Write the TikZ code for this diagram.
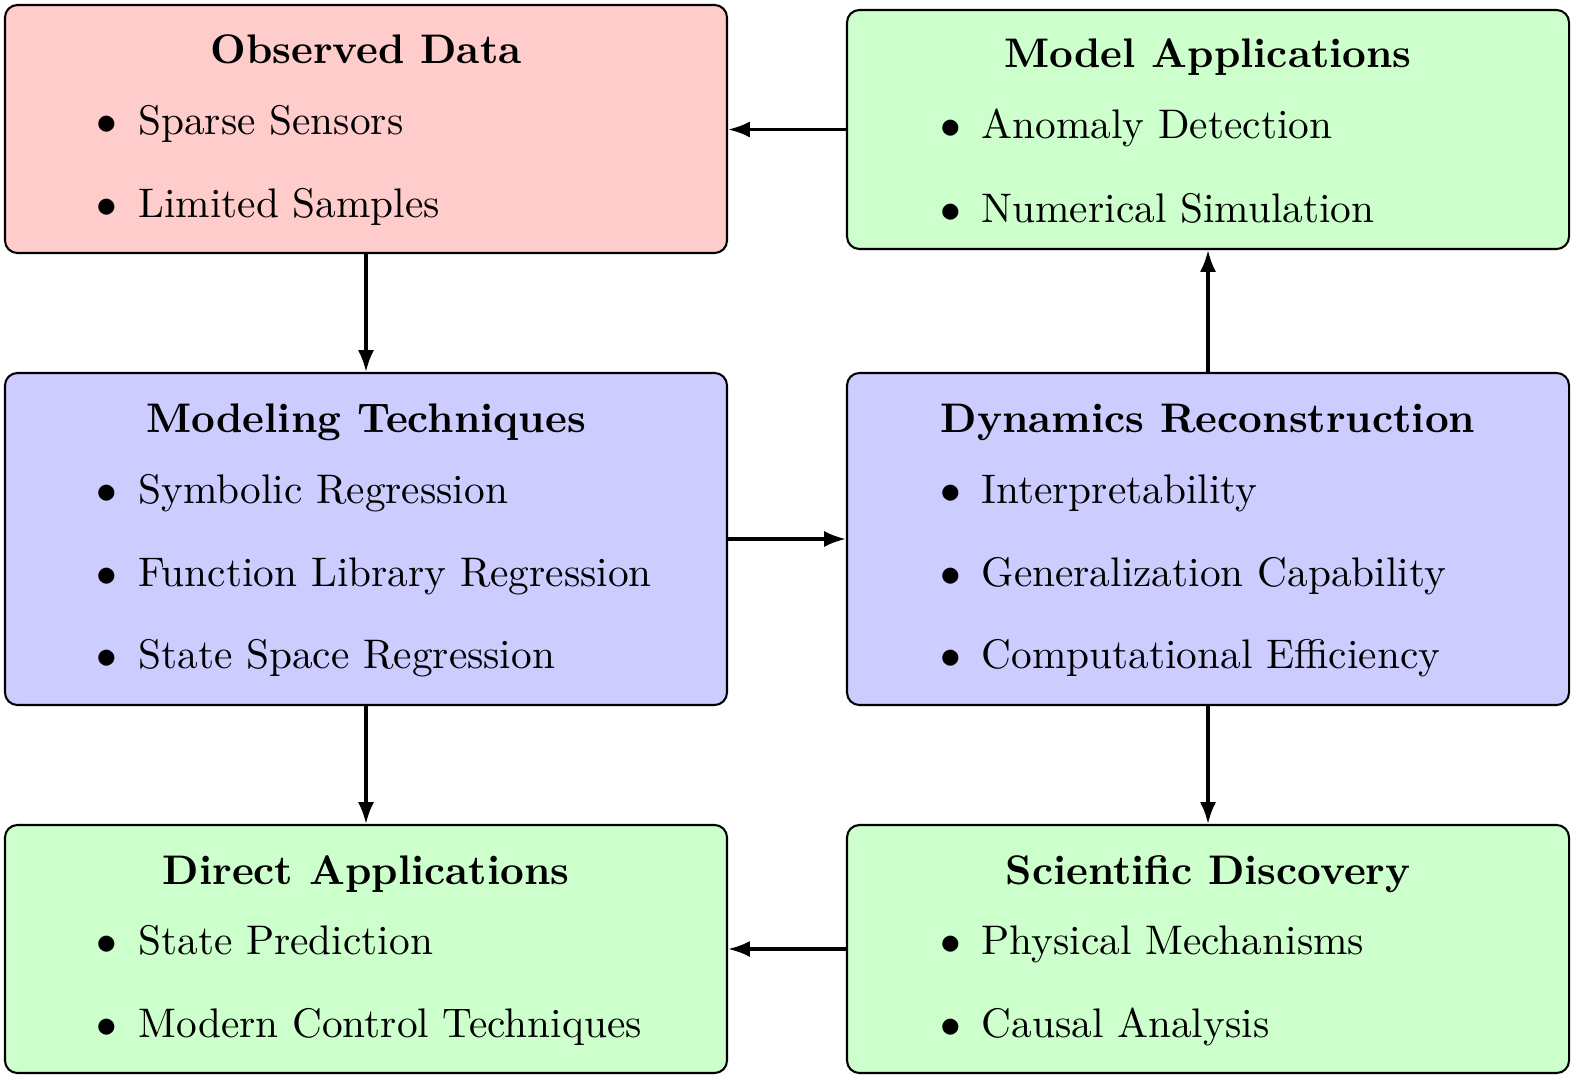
\documentclass[tikz,border=0pt]{standalone}
\usetikzlibrary{arrows.meta}
\begin{document}
\begin{tikzpicture}[x=0.2419pt,y=-0.2419pt,
  box/.style={draw=black,line width=0.5pt,rounded corners=3pt,minimum width=174.65pt,inner sep=0pt},
  ttl/.style={inner sep=0pt,anchor=base,font=\bfseries},
  itm/.style={inner sep=0pt,anchor=base west},
  conn/.style={line width=0.8pt,-{Latex[length=5.3pt,width=3.9pt]}}]
\useasboundingbox (0,0) rectangle (1574,1080);
\newcommand{\bul}{\llap{$\bullet$\hspace{5pt}}}
% boxes
\node[box,fill=red!20,minimum height=59.99pt] (tl) at (366,129) {};
\node[box,fill=green!20,minimum height=57.81pt] (tr) at (1208,129.5) {};
\node[box,fill=blue!20,minimum height=80.31pt] (ml) at (366,539) {};
\node[box,fill=blue!20,minimum height=80.31pt] (mr) at (1208,539) {};
\node[box,fill=green!20,minimum height=59.99pt] (bl) at (366,949) {};
\node[box,fill=green!20,minimum height=59.99pt] (br) at (1208,949) {};
% texts top-left
\node[ttl] (tlt) at (366,64) {Observed Data};
\node[itm] (tl1) at (137.5,135) {\bul Sparse Sensors};
\node[itm] (tl2) at (137.5,218) {\bul Limited Samples};
% top-right
\node[ttl] (trt) at (1208,68) {Model Applications};
\node[itm] (tr1) at (980.7,139) {\bul Anomaly Detection};
\node[itm] (tr2) at (980.7,222.5) {\bul Numerical Simulation};
% middle-left
\node[ttl] (mlt) at (366,432.5) {Modeling Techniques};
\node[itm] (ml1) at (137.5,503.5) {\bul Symbolic Regression};
\node[itm] (ml2) at (137.5,586) {\bul Function Library Regression};
\node[itm] (ml3) at (137.5,668.5) {\bul State Space Regression};
% middle-right
\node[ttl] (mrt) at (1208,432.5) {Dynamics Reconstruction};
\node[itm] (mr1) at (980.7,503.5) {\bul Interpretability};
\node[itm] (mr2) at (980.7,586) {\bul Generalization Capability};
\node[itm] (mr3) at (980.7,668.5) {\bul Computational Efficiency};
% bottom-left
\node[ttl] (blt) at (366,884.5) {Direct Applications};
\node[itm] (bl1) at (137.5,954.5) {\bul State Prediction};
\node[itm] (bl2) at (137.5,1037) {\bul Modern Control Techniques};
% bottom-right
\node[ttl] (brt) at (1208,884.5) {Scientific Discovery};
\node[itm] (br1) at (980.7,954.5) {\bul Physical Mechanisms};
\node[itm] (br2) at (980.7,1037) {\bul Causal Analysis};
% connectors
\draw[conn] (tl.south) -- (ml.north);
\draw[conn] (tr.west) -- (tr.west -| tl.east);
\draw[conn] (ml.east) -- (mr.west);
\draw[conn] (mr.north) -- (tr.south);
\draw[conn] (mr.south) -- (br.north);
\draw[conn] (ml.south) -- (bl.north);
\draw[conn] (br.west) -- (bl.east);
\end{tikzpicture}
\end{document}
